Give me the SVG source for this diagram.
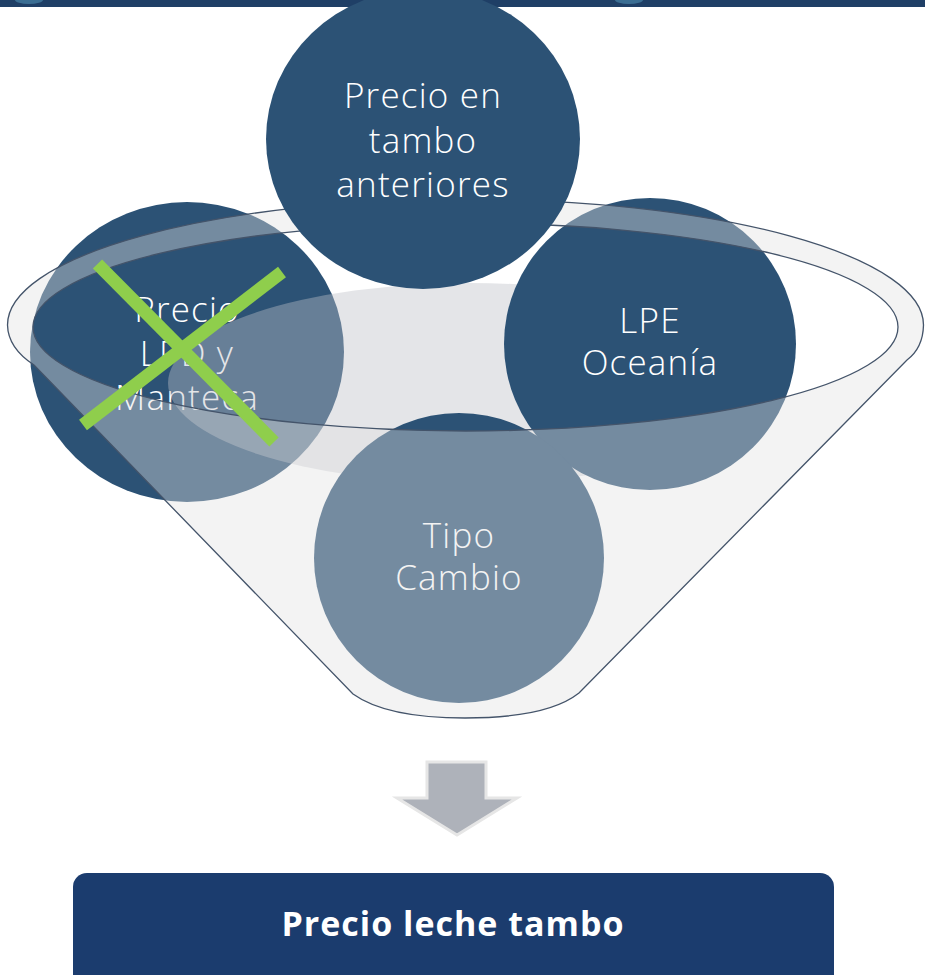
<svg xmlns="http://www.w3.org/2000/svg" width="925" height="975" viewBox="0 0 925 975">
  <style>
    .circ { fill: #2C5275; }
    .lbl { font-family: "Open Sans", "Lato", "DejaVu Sans", sans-serif; font-weight: 300; font-size: 35px; letter-spacing: 1.2px; fill: #FFFFFF; text-anchor: middle; }
    .rim { fill: none; stroke: #44546A; stroke-width: 1.3; }
    .cross { stroke: #8FCE4C; stroke-width: 13; stroke-linecap: butt; }
  </style>
  <rect width="925" height="975" fill="#FFFFFF"/>

  <!-- header bar -->
  <g id="header">
    <rect x="0" y="0" width="925" height="7" fill="#1F3F66"/>
    <ellipse cx="29" cy="0" rx="14" ry="4" fill="#3B6E93"/>
    <ellipse cx="437" cy="0" rx="14" ry="4" fill="#3B6E93"/>
    <ellipse cx="629" cy="0" rx="14" ry="4" fill="#3B6E93"/>
  </g>

  <!-- Precio LPD y Manteca (behind funnel) -->
  <g id="node-precio-lpd">
    <ellipse class="circ" cx="187" cy="352" rx="157" ry="150"/>
    <text class="lbl"><tspan x="187" y="322">Precio</tspan><tspan x="187" y="366">LPD y</tspan><tspan x="187" y="410">Manteca</tspan></text>
  </g>

  <!-- funnel interior shading -->
  <g id="funnel-interior">
    <ellipse cx="470" cy="383" rx="302" ry="100" fill="#BDC0C6" fill-opacity="0.41"/>
  </g>

  <g id="node-lpe-oceania">
    <circle class="circ" cx="650" cy="344" r="146"/>
    <text class="lbl"><tspan x="650" y="333">LPE</tspan><tspan x="650" y="375">Oceanía</tspan></text>
  </g>

  <g id="node-tipo-cambio">
    <circle class="circ" cx="459" cy="558" r="145"/>
    <text class="lbl"><tspan x="459" y="548">Tipo</tspan><tspan x="459" y="590">Cambio</tspan></text>
  </g>

  <!-- funnel -->
  <g id="funnel">
    <path fill="#E0E0E2" fill-opacity="0.4" fill-rule="evenodd"
      d="M 7.5 325 A 458 126 0 0 1 923.5 325 Q 923 348 907 360 L 579 693 C 555 712 510 718 465 718 C 420 718 378 712 353 694 L 34 365 Q 8 348 7.5 325 Z
         M 33 327 A 432.5 104 0 0 0 898 327 A 432.5 104 0 0 0 33 327 Z"/>
    <path class="rim" d="M 7.5 325 A 458 126 0 0 1 923.5 325 Q 923 348 907 360 L 579 693 C 555 712 510 718 465 718 C 420 718 378 712 353 694 L 34 365 Q 8 348 7.5 325 Z"/>
    <ellipse class="rim" cx="465.5" cy="327" rx="432.5" ry="104"/>
  </g>

  <!-- Precio en tambo anteriores (in front) -->
  <g id="node-precio-tambo">
    <ellipse class="circ" cx="423" cy="139" rx="157" ry="150"/>
    <text class="lbl"><tspan x="423" y="108">Precio en</tspan><tspan x="423" y="153">tambo</tspan><tspan x="423" y="197">anteriores</tspan></text>
  </g>

  <!-- cross-out mark -->
  <g id="cross-mark">
    <line class="cross" x1="97.5" y1="264" x2="274" y2="442"/>
    <line class="cross" x1="282" y1="272" x2="83" y2="425"/>
  </g>

  <!-- connector arrow -->
  <g id="connectors">
    <path d="M 427 762 L 486 762 L 486 798 L 517 798 L 457 835 L 397 798 L 427 798 Z" fill="#AEB2BA" stroke="#E6E6E6" stroke-width="3" stroke-linejoin="miter"/>
  </g>

  <!-- result box -->
  <g id="node-result">
    <rect x="73" y="873" width="761" height="115" rx="14" ry="14" fill="#1B3C6E"/>
    <text x="453" y="936" font-family="Open Sans, Lato, DejaVu Sans, sans-serif" font-weight="700" font-size="34" letter-spacing="1" fill="#FFFFFF" text-anchor="middle">Precio leche tambo</text>
  </g>
</svg>
